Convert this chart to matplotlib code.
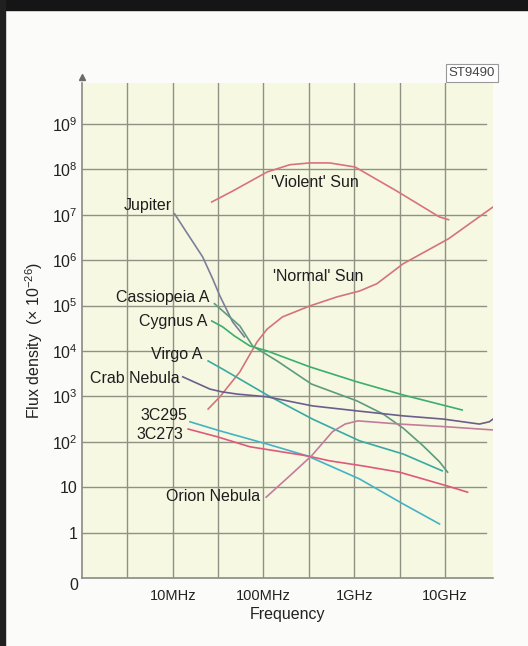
import numpy as np
import matplotlib
matplotlib.use("Agg")
import matplotlib.pyplot as plt
from matplotlib.patches import Rectangle

plt.rcParams['font.family'] = ['Liberation Sans', 'DejaVu Sans']
plt.rcParams['mathtext.fontset'] = 'custom'
plt.rcParams['mathtext.rm'] = 'Liberation Sans'
plt.rcParams['mathtext.it'] = 'Liberation Sans:italic'

# data: log10(frequency in Hz) and log10(flux density in units of 1e-26)
violent_f = [7.43, 7.66, 8.04, 8.29, 8.51, 8.73, 9.01, 9.47, 9.94, 10.04]
violent_s = [7.28, 7.52, 7.94, 8.10, 8.14, 8.14, 8.05, 7.52, 6.95, 6.89]

normal_f = [7.39, 7.52, 7.74, 7.93, 8.04, 8.21, 8.51, 8.81, 9.06, 9.25, 9.54, 10.04, 10.53]
normal_s = [2.72, 2.99, 3.54, 4.20, 4.48, 4.75, 4.99, 5.19, 5.32, 5.48, 5.92, 6.47, 7.17]

jupiter_f = [7.02, 7.15, 7.33, 7.44, 7.52, 7.66, 7.79]
jupiter_s = [7.02, 6.62, 6.07, 5.59, 5.21, 4.64, 4.31]

cas_f = [7.46, 7.74, 7.88, 8.15, 8.53, 9.03, 9.32, 9.54, 9.76, 9.94, 10.03]
cas_s = [5.04, 4.55, 4.11, 3.78, 3.27, 2.90, 2.61, 2.30, 1.91, 1.56, 1.33]

cyg_f = [7.43, 7.55, 7.68, 7.85, 8.04, 8.51, 9.03, 9.54, 10.19]
cyg_s = [4.66, 4.53, 4.33, 4.11, 4.00, 3.65, 3.32, 3.03, 2.70]

virgo_f = [7.39, 7.55, 7.74, 8.04, 8.54, 9.06, 9.54, 9.97]
virgo_s = [3.78, 3.60, 3.38, 3.03, 2.50, 2.02, 1.73, 1.36]

crab_f = [7.11, 7.41, 7.54, 7.71, 8.04, 8.54, 9.03, 9.54, 9.98, 10.38, 10.49, 10.53]
crab_s = [3.43, 3.16, 3.10, 3.05, 2.99, 2.79, 2.68, 2.57, 2.50, 2.39, 2.44, 2.50]

c295_f = [7.19, 7.52, 8.04, 8.48, 8.54, 9.06, 9.54, 9.94]
c295_s = [2.44, 2.24, 1.95, 1.69, 1.64, 1.18, 0.63, 0.19]

c273_f = [7.17, 7.49, 7.85, 8.48, 8.73, 9.09, 9.50, 10.02, 10.25]
c273_s = [2.28, 2.11, 1.89, 1.69, 1.58, 1.47, 1.33, 1.03, 0.89]

orion_f = [8.03, 8.29, 8.53, 8.76, 8.90, 9.04, 9.50, 10.02, 10.53]
orion_s = [0.78, 1.25, 1.69, 2.22, 2.39, 2.46, 2.39, 2.33, 2.26]

y_ticks = [0, 1, 2, 3, 4, 5, 6, 7, 8, 9]
y_labels = ['1', '10', r'$10^2$', r'$10^3$', r'$10^4$', r'$10^5$',
            r'$10^6$', r'$10^7$', r'$10^8$', r'$10^9$']
x_ticks = [7, 8, 9, 10]
x_labels = ['10MHz', '100MHz', '1GHz', '10GHz']

W, H = 528, 646
fig = plt.figure(figsize=(W / 100, H / 100), dpi=100)
fig.patch.set_facecolor('#fbfbfa')
# scan border
fig.add_artist(Rectangle((0, 1 - 10 / H), 1, 10 / H, transform=fig.transFigure,
                         color='#151515', zorder=0))
fig.add_artist(Rectangle((0, 0), 5 / W, 1, transform=fig.transFigure,
                         color='#202020', zorder=0))

ax = fig.add_axes([82 / W, (H - 578) / H, (493 - 82) / W, (578 - 83) / H])
ax.set_facecolor('#f6f8e2')
ax.set_xscale('log')
ax.set_yscale('log')
ax.set_xlim(1e6, 10 ** 10.53)
ax.set_ylim(10 ** -1, 10 ** 9.9)

grid_c = '#8e9284'
for e in np.arange(6.5, 10.01, 0.5):
    ax.axvline(10 ** e, color=grid_c, lw=1.0, zorder=1)
for e in range(0, 10):
    ax.plot([1e6, 10 ** 10.45], [10 ** e, 10 ** e], color=grid_c, lw=1.0, zorder=1)

series = [
    (violent_f, violent_s, '#d9727c'),
    (normal_f, normal_s, '#d4747a'),
    (jupiter_f, jupiter_s, '#7c7f98'),
    (cas_f, cas_s, '#5c9c7c'),
    (cyg_f, cyg_s, '#3cae6c'),
    (virgo_f, virgo_s, '#38aaa2'),
    (crab_f, crab_s, '#6c5e8c'),
    (c295_f, c295_s, '#44b2c6'),
    (c273_f, c273_s, '#e0587a'),
    (orion_f, orion_s, '#c47c9c'),
]
for f, s, c in series:
    ax.plot(10 ** np.array(f), 10 ** np.array(s), color=c, lw=1.2, zorder=2)

labels = [
    ('Jupiter', jupiter_f, jupiter_s, -3, 8),
    ('Cassiopeia A', cas_f, cas_s, -5, 6),
    ('Cygnus A', cyg_f, cyg_s, -4, -1),
    ('Virgo A', virgo_f, virgo_s, -6, 6),
    ('Crab Nebula', crab_f, crab_s, -3, -2),
    ('3C295', c295_f, c295_s, -3, 6),
    ('3C273', c273_f, c273_s, -5, -5),
    ('Orion Nebula', orion_f, orion_s, -6, 1),
]
for name, f, s, dx, dy in labels:
    ax.annotate(name, xy=(10 ** f[0], 10 ** s[0]), xytext=(dx, dy),
                textcoords='offset pixels', ha='right', va='center',
                fontsize=11.5, color='#1e1e1e', zorder=3)

ax.text(10 ** 8.566, 10 ** 7.70, "'Violent' Sun", ha='center', va='center',
        fontsize=11.5, color='#1e1e1e')
ax.text(10 ** 8.60, 10 ** 5.63, "'Normal' Sun", ha='center', va='center',
        fontsize=11.5, color='#1e1e1e')

ax.set_yticks([10.0 ** e for e in y_ticks])
ax.set_yticklabels(y_labels)
ax.set_xticks([10.0 ** e for e in x_ticks])
ax.set_xticklabels(x_labels)
ax.minorticks_off()
ax.tick_params(axis='y', length=0, pad=3, labelsize=11.5, labelcolor='#222222')
ax.tick_params(axis='x', length=0, pad=8, labelsize=10.5, labelcolor='#222222')
fig.text(74 / W, 1 - 585 / H, '0', ha='center', va='center', fontsize=11.5,
         color='#222222')

for side in ['top', 'right']:
    ax.spines[side].set_visible(False)
for side in ['left', 'bottom']:
    ax.spines[side].set_color('#8a8a86')
    ax.spines[side].set_linewidth(1.2)
ax.plot([0], [1.012], marker='^', markersize=4, color='#6a6a66',
        transform=ax.transAxes, clip_on=False)

ax.set_xlabel('Frequency', fontsize=11.5, color='#222222', labelpad=3)
ax.set_ylabel(r'Flux density  ($\times$ 10$^{-26}$)', fontsize=11.5,
              color='#222222')
ax.yaxis.set_label_coords(-0.09, 0.48)

fig.text(472 / W, 1 - 73 / H, 'ST9490', ha='center', va='center', fontsize=9.5,
         color='#444444',
         bbox=dict(boxstyle='square,pad=0.25', fc='white', ec='#999999', lw=0.8))

fig.savefig('out.png', dpi=100, facecolor=fig.get_facecolor())
